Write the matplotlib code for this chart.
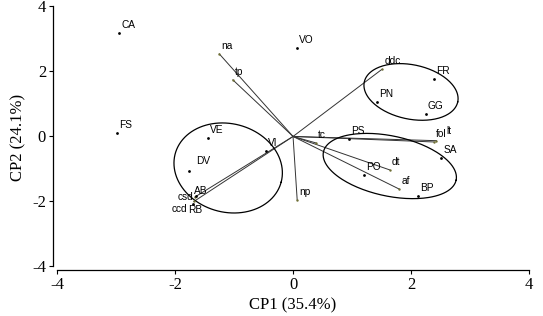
"""PCA biplot: sites (dots), variable vectors and group ellipses."""
import numpy as np
import matplotlib
matplotlib.use("Agg")
import matplotlib.pyplot as plt

# sites (scores)
site_names = ["CA", "FS", "VE", "DV", "VI", "AB", "RB", "VO",
              "FR", "PN", "GG", "PS", "SA", "PO", "BP"]
site_x = [-2.95, -2.98, -1.44, -1.76, -0.46, -1.64, -1.69, 0.07,
          2.39, 1.42, 2.25, 0.95, 2.51, 1.20, 2.12]
site_y = [3.18, 0.11, -0.05, -1.06, -0.45, -1.83, -2.08, 2.72,
          1.77, 1.06, 0.69, -0.08, -0.66, -1.18, -1.83]

# variables (loadings)
var_names = ["na", "tp", "ddc", "tc", "fol", "lt", "dt", "af", "np", "csd", "ccd"]
var_x = [-1.25, -1.02, 1.51, 0.39, 2.39, 2.43, 1.64, 1.80, 0.07, -1.66, -1.68]
var_y = [2.54, 1.74, 2.07, -0.20, -0.17, -0.13, -1.03, -1.62, -1.95, -1.86, -2.00]

# group ellipses: centre x, centre y, semi-axis a, semi-axis b, angle
ell_cx = [-1.10, 2.00, 1.64]
ell_cy = [-0.97, 1.37, -0.91]
ell_a = [0.93, 0.81, 1.15]
ell_b = [0.75, 0.46, 0.51]
ell_ang = [-15, -12, -12]

xticks = [-4, -2, 0, 2, 4]
yticks = [-4, -2, 0, 2, 4]

# label nudges (points) where the default doesn't fit
DEFAULT_OFF = (1.5, 3.5)
label_off = {
    "DV": (5, 5, "left"),
    "AB": (-2, 1.5, "left"),
    "RB": (-3.5, -6.5, "left"),
    "csd": (-1.4, -2.2, "right"),
    "ccd": (-5, -7.5, "right"),
    "lt": (7.5, 4.5, "left"),
}

XLIM = (-4.07, 4.05)
YLIM = (-4.11, 4.05)

fig = plt.figure(figsize=(5.43, 3.16), dpi=100)
ax = fig.add_axes([0.0976, 0.1456, 0.882, 0.839])
ax.set_xlim(*XLIM)
ax.set_ylim(*YLIM)

# vectors
for x, y in zip(var_x, var_y):
    ax.plot([0, x], [0, y], color="#333333", lw=0.7, zorder=2)
ax.scatter(var_x, var_y, s=3, color="#6f6f35", zorder=3, linewidths=0)

# sites
ax.scatter(site_x, site_y, s=4, color="black", zorder=3, linewidths=0)

# ellipses drawn in screen-isotropic units (pixel aspect of the axes)
bbox = ax.get_position()
fw, fh = fig.get_size_inches() * fig.dpi
sx = bbox.width * fw / (XLIM[1] - XLIM[0])
sy = bbox.height * fh / (YLIM[1] - YLIM[0])
k = sx / sy
t = np.linspace(0, 2 * np.pi, 200)
for cx, cy, a, b, ang in zip(ell_cx, ell_cy, ell_a, ell_b, ell_ang):
    phi = np.deg2rad(ang)
    ex = cx + a * np.cos(t) * np.cos(phi) - b * np.sin(t) * np.sin(phi)
    ey = cy + (a * np.cos(t) * np.sin(phi) + b * np.sin(t) * np.cos(phi)) * k
    ax.plot(ex, ey, color="black", lw=0.9, zorder=2)

# labels
for names, xs, ys in ((site_names, site_x, site_y), (var_names, var_x, var_y)):
    for n, x, y in zip(names, xs, ys):
        dx, dy, ha = label_off.get(n, (*DEFAULT_OFF, "left"))
        ax.annotate(n, (x, y), xytext=(dx, dy), textcoords="offset points",
                    ha=ha, va="baseline", fontsize=7.3, family="Liberation Sans",
                    zorder=4)

# R-style detached axes
for side in ("top", "right"):
    ax.spines[side].set_visible(False)
ax.spines["left"].set_bounds(-4, 4)
ax.spines["bottom"].set_bounds(-4, 4)
for side in ("left", "bottom"):
    ax.spines[side].set_linewidth(0.9)

ax.set_xticks(xticks)
ax.set_yticks(yticks)
ax.set_xticklabels([str(v) for v in xticks])
ax.set_yticklabels([str(v) for v in yticks])
ax.tick_params(direction="out", length=3, width=0.8, labelsize=12, pad=2)
for lab in ax.get_xticklabels() + ax.get_yticklabels():
    lab.set_family("Liberation Serif")

ax.set_xlabel("CP1 (35.4%)", family="Liberation Serif", fontsize=12, labelpad=3)
ax.set_ylabel("CP2 (24.1%)", family="Liberation Serif", fontsize=12, labelpad=4)

fig.savefig("out.png", dpi=100)
plt.close(fig)
